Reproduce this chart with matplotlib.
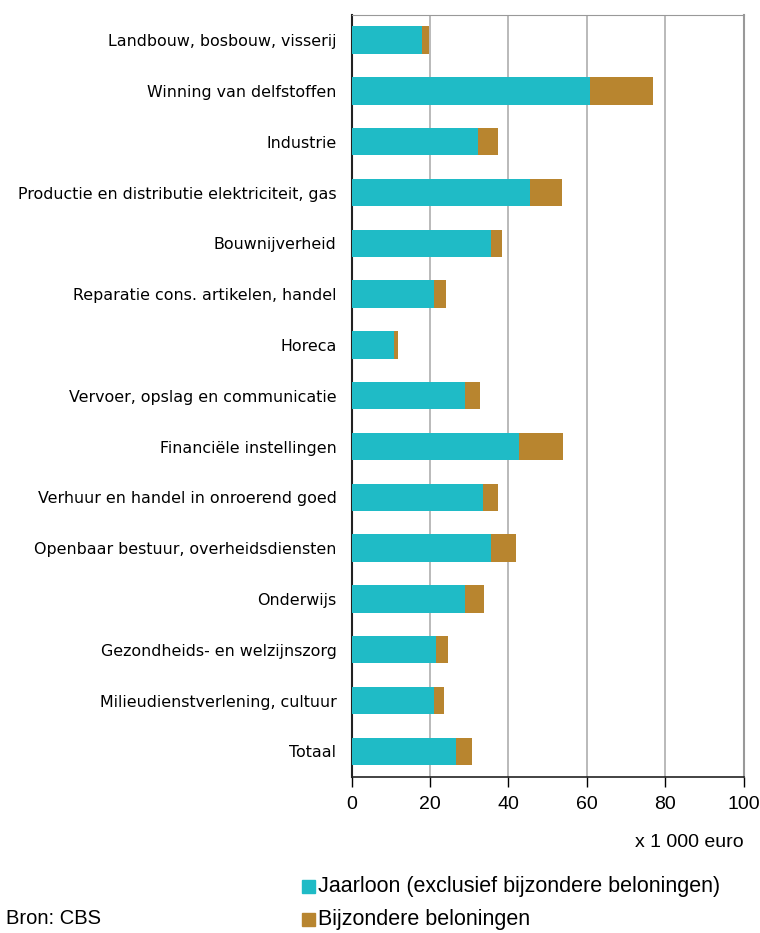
import matplotlib
matplotlib.use("Agg")
import numpy as np
import matplotlib.pyplot as plt
from matplotlib.patches import Rectangle

# Sectors, top to bottom
sectors = [
    "Landbouw, bosbouw, visserij",
    "Winning van delfstoffen",
    "Industrie",
    "Productie en distributie elektriciteit, gas",
    "Bouwnijverheid",
    "Reparatie cons. artikelen, handel",
    "Horeca",
    "Vervoer, opslag en communicatie",
    "Financiële instellingen",
    "Verhuur en handel in onroerend goed",
    "Openbaar bestuur, overheidsdiensten",
    "Onderwijs",
    "Gezondheids- en welzijnszorg",
    "Milieudienstverlening, cultuur",
    "Totaal",
]

# x 1 000 euro
jaarloon = [18.0, 60.9, 32.3, 45.6, 35.5, 21.1, 10.8, 28.8, 42.6, 33.4, 35.5, 28.8, 21.5, 21.1, 26.6]
bijzonder = [1.6, 15.9, 5.1, 8.1, 2.9, 3.0, 1.0, 4.0, 11.2, 4.0, 6.5, 5.0, 3.1, 2.5, 4.1]

TEAL = "#1FBBC6"
BROWN = "#B8852F"

fig = plt.figure(figsize=(7.6, 9.33), dpi=100)
ax = fig.add_axes([0.4628, 0.1675, 0.5155, 0.8167])

y = np.arange(len(sectors))
ax.barh(y, jaarloon, height=0.54, color=TEAL, edgecolor="none", zorder=3)
ax.barh(y, bijzonder, left=jaarloon, height=0.54, color=BROWN, edgecolor="none", zorder=3)

ax.set_xlim(0, 100)
ax.set_ylim(len(sectors) - 0.5, -0.5)
ax.set_xticks([0, 20, 40, 60, 80, 100])
ax.set_yticks(y)
ax.set_yticklabels(sectors, fontsize=11.4, family="DejaVu Sans")
ax.tick_params(axis="y", length=0, pad=11)
ax.tick_params(axis="x", direction="out", length=7, width=1, labelsize=14, pad=7)
for lab in ax.get_xticklabels():
    lab.set_family("Liberation Sans")

ax.grid(axis="x", color="#b4b4b4", linewidth=1.3, zorder=0)
ax.spines["left"].set_color("#222222")
ax.spines["bottom"].set_color("#222222")
ax.spines["top"].set_color("#999999")
ax.spines["right"].set_color("#999999")
ax.spines["left"].set_linewidth(1.5)
ax.spines["bottom"].set_linewidth(1.2)
ax.spines["right"].set_linewidth(1.5)

fig.text(0.978, 0.097, "x 1 000 euro", ha="right", va="center",
         fontsize=14, family="Liberation Sans")

# legend
for i, (txt, col) in enumerate([("Jaarloon (exclusief bijzondere beloningen)", TEAL),
                                ("Bijzondere beloningen", BROWN)]):
    yy = 0.0495 - i * 0.0355
    fig.patches.append(Rectangle((0.398, yy - 0.007), 0.017, 0.014,
                                 transform=fig.transFigure, color=col))
    fig.text(0.419, yy, txt, ha="left", va="center", fontsize=15.5,
             family="Liberation Sans")

fig.text(0.008, 0.016, "Bron: CBS", ha="left", va="center", fontsize=14.5,
         family="Liberation Sans")

fig.savefig("out.png", dpi=100)
